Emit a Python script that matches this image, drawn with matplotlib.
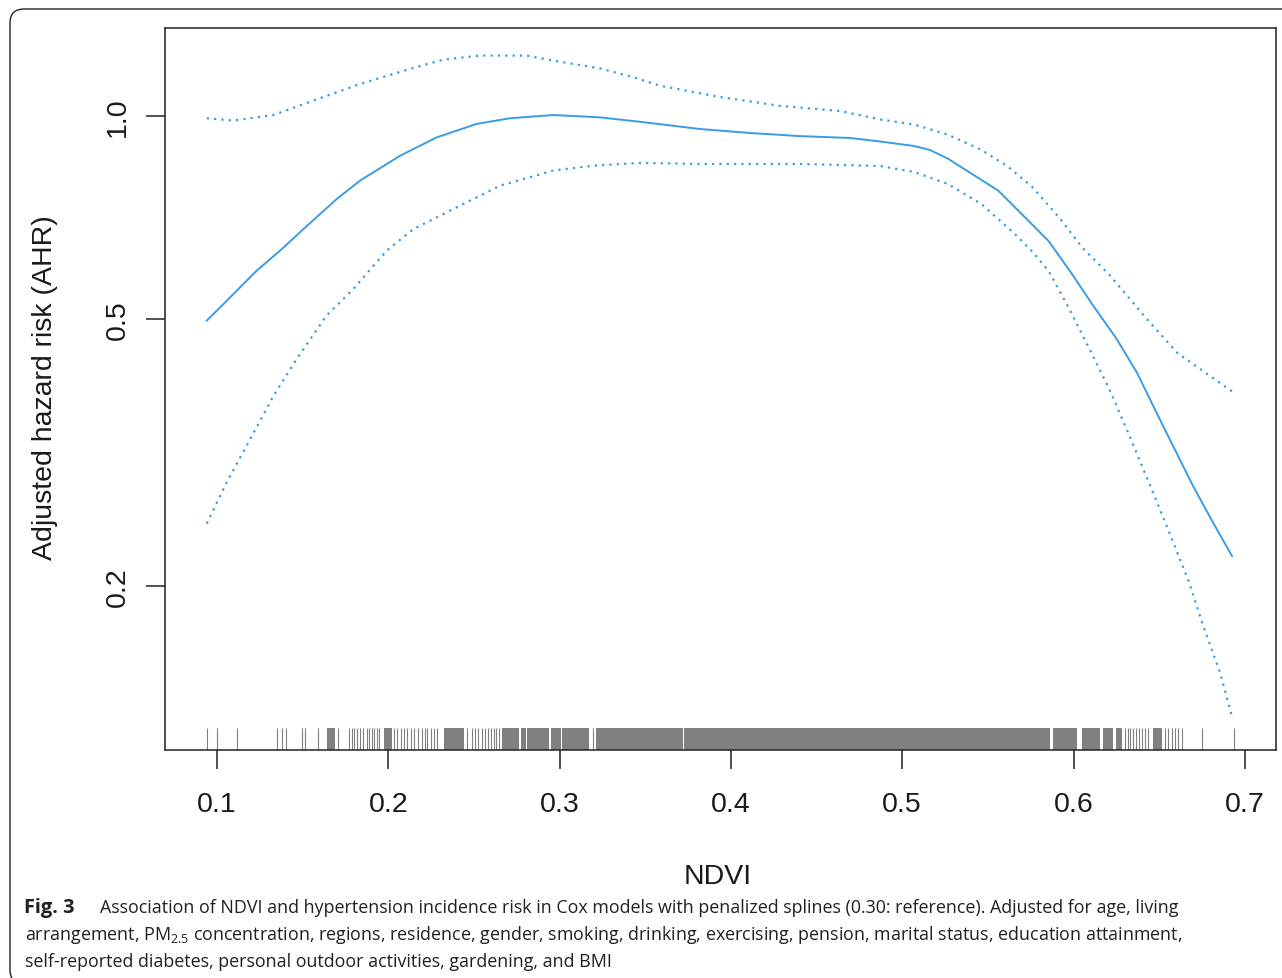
import matplotlib
matplotlib.use("Agg")
import matplotlib.pyplot as plt
from matplotlib.patches import FancyBboxPatch
from matplotlib.ticker import NullLocator
from matplotlib.transforms import IdentityTransform, blended_transform_factory

# values (NDVI vs adjusted hazard ratio, log scale)
fit_x = [0.0940, 0.1047, 0.1232, 0.1378, 0.1504, 0.1699, 0.1835, 0.2068, 0.2283,
         0.2516, 0.2710, 0.2963, 0.3236, 0.3469, 0.3820, 0.4112, 0.4404, 0.4695,
         0.4870, 0.5068, 0.5160, 0.5265, 0.5560, 0.5758, 0.5856, 0.5995, 0.6113,
         0.6251, 0.6370, 0.6507, 0.6698, 0.6814, 0.6925]
fit_y = [0.497, 0.529, 0.590, 0.635, 0.680, 0.754, 0.803, 0.874, 0.931,
         0.975, 0.994, 1.005, 0.997, 0.982, 0.958, 0.945, 0.935, 0.929,
         0.918, 0.904, 0.892, 0.866, 0.776, 0.691, 0.652, 0.581, 0.524,
         0.467, 0.416, 0.353, 0.282, 0.249, 0.222]

upper_x = [0.0940, 0.1095, 0.1329, 0.1562, 0.1835, 0.2127, 0.2321, 0.2535, 0.2808,
           0.3002, 0.3236, 0.3430, 0.3586, 0.3936, 0.4287, 0.4637, 0.4870, 0.5068,
           0.5265, 0.5462, 0.5618, 0.5758, 0.5915, 0.6054, 0.6211, 0.6409, 0.6606,
           0.6925]
upper_y = [0.994, 0.986, 1.005, 1.056, 1.118, 1.177, 1.215, 1.232, 1.232,
           1.206, 1.179, 1.144, 1.111, 1.069, 1.037, 1.019, 0.990, 0.973,
           0.940, 0.892, 0.842, 0.786, 0.708, 0.637, 0.581, 0.506, 0.445,
           0.390]

lower_x = [0.0940, 0.1057, 0.1193, 0.1329, 0.1465, 0.1640, 0.1796, 0.1991, 0.2146,
           0.2419, 0.2652, 0.2963, 0.3197, 0.3469, 0.3820, 0.4404, 0.4870, 0.5068,
           0.5265, 0.5462, 0.5659, 0.5758, 0.5857, 0.5974, 0.6093, 0.6211, 0.6318,
           0.6400, 0.6479, 0.6558, 0.6674, 0.6756, 0.6855, 0.6925]
lower_y = [0.248, 0.286, 0.331, 0.384, 0.436, 0.506, 0.554, 0.632, 0.680,
           0.737, 0.789, 0.831, 0.845, 0.853, 0.850, 0.850, 0.844, 0.827,
           0.794, 0.741, 0.668, 0.630, 0.588, 0.518, 0.451, 0.392, 0.339,
           0.302, 0.270, 0.241, 0.203, 0.175, 0.149, 0.128]

# rug: single observations and stretches where the ticks merge into a band
rug_ticks = [0.094, 0.100, 0.1115, 0.1348, 0.1377, 0.1404, 0.1494, 0.1516, 0.1588,
             0.1708, 0.1772, 0.1786, 0.1802, 0.1819, 0.1835, 0.1854, 0.1874, 0.1889,
             0.1903, 0.1918, 0.1932, 0.1947, 0.2033, 0.2053, 0.2072, 0.2092, 0.2111,
             0.2131, 0.2150, 0.2175, 0.2195, 0.2214, 0.2228, 0.2248, 0.2267, 0.2286,
             0.2458, 0.2487, 0.2506, 0.2526, 0.2546, 0.2565, 0.2584, 0.2598, 0.2614,
             0.2629, 0.2643, 0.3192, 0.6298, 0.6316, 0.6331, 0.6350, 0.6367, 0.6382,
             0.6401, 0.6418, 0.6436, 0.6534, 0.6552, 0.6573, 0.6591, 0.6612, 0.6633,
             0.6750, 0.6938]
rug_blocks = [(0.1640, 0.1688), (0.1975, 0.2020), (0.2325, 0.2440), (0.2662, 0.2765),
              (0.2773, 0.2804), (0.2812, 0.2940), (0.2948, 0.3008), (0.3016, 0.3172),
              (0.3212, 0.3720), (0.3727, 0.5862), (0.5878, 0.6018), (0.6050, 0.6155),
              (0.6173, 0.6228), (0.6250, 0.6284), (0.6465, 0.6515)]

x_ticks = [0.1, 0.2, 0.3, 0.4, 0.5, 0.6, 0.7]
x_tick_labels = ["0.1", "0.2", "0.3", "0.4", "0.5", "0.6", "0.7"]
y_ticks = [0.2, 0.5, 1.0]
y_tick_labels = ["0.2", "0.5", "1.0"]

caption_lines = [
    "Association of NDVI and hypertension incidence risk in Cox models with penalized "
    "splines (0.30: reference). Adjusted for age, living",
    r"arrangement, PM$\mathregular{_{2.5}}$ concentration, regions, residence, gender, smoking, "
    "drinking, exercising, pension, marital status, education attainment,",
    "self-reported diabetes, personal outdoor activities, gardening, and BMI",
]

LINE_COLOR = "#3a9de4"
RUG_COLOR = "#808080"
TEXT_COLOR = "#231f20"
CAPTION_FONT = ["Liberation Sans Narrow", "Open Sans", "DejaVu Sans"]

plt.rcParams["font.family"] = ["Liberation Sans", "DejaVu Sans"]
plt.rcParams["mathtext.fontset"] = "custom"

W, H = 1282, 979
fig = plt.figure(figsize=(W / 100, H / 100), dpi=100)
fig.patch.set_facecolor("white")


def fx(px):
    return px / W


def fy(py):
    return 1 - py / H


ax = fig.add_axes([fx(165), fy(751), (1276 - 165) / W, (751 - 29) / H])

ax.plot(fit_x, fit_y, color=LINE_COLOR, lw=1.4)
ax.plot(upper_x, upper_y, color=LINE_COLOR, lw=1.6, linestyle=(0, (1, 2.3)))
ax.plot(lower_x, lower_y, color=LINE_COLOR, lw=1.6, linestyle=(0, (1, 2.3)))

# rug along the bottom, 3% of the plot height
trans = blended_transform_factory(ax.transData, ax.transAxes)
ax.vlines(rug_ticks, 0, 0.03, transform=trans, color=RUG_COLOR, lw=0.8)
for a, b in rug_blocks:
    ax.axvspan(a, b, ymin=0, ymax=0.03, color=RUG_COLOR, lw=0)

ax.set_yscale("log")
ax.set_xlim(0.0696, 0.7182)
ax.set_ylim(0.1142, 1.354)
ax.set_xticks(x_ticks)
ax.set_xticklabels(x_tick_labels)
ax.set_yticks(y_ticks)
ax.set_yticklabels(y_tick_labels)
ax.yaxis.set_minor_locator(NullLocator())
ax.xaxis.set_minor_locator(NullLocator())

ax.tick_params(axis="both", length=13.5, width=1.1, color="#222222",
               labelsize=20.5, labelcolor="#1a1a1a")
ax.tick_params(axis="x", pad=16)
ax.tick_params(axis="y", pad=11, labelrotation=90)
for lbl in ax.get_yticklabels():
    lbl.set_va("center")
for sp in ax.spines.values():
    sp.set_linewidth(1.1)
    sp.set_color("#222222")

fig.text(fx(45), fy(388), "Adjusted hazard risk (AHR)", rotation=90,
         ha="center", va="center", fontsize=20.5, color="#1a1a1a")
fig.text(fx(718), fy(877), "NDVI", ha="center", va="center",
         fontsize=20.5, color="#1a1a1a")

# rounded frame around the whole figure panel
frame = FancyBboxPatch((10, -6), 1290, 975, boxstyle="round,pad=0,rounding_size=14",
                       transform=IdentityTransform(), fill=False,
                       edgecolor="#222222", lw=1.0)
fig.add_artist(frame)

# caption: size the font so the last line spans about the same width as the original
fig.canvas.draw()
renderer = fig.canvas.get_renderer()
probe = fig.text(0, 0, caption_lines[2], fontsize=14, family=CAPTION_FONT)
w = probe.get_window_extent(renderer).width
probe.remove()
cap_size = 14 * (617 - 25) / w

fig.text(fx(24), fy(913), "Fig. 3", fontsize=cap_size * 1.12, family=CAPTION_FONT,
         weight="bold", color=TEXT_COLOR, va="baseline")
fig.text(fx(100), fy(913), caption_lines[0], fontsize=cap_size, family=CAPTION_FONT,
         color=TEXT_COLOR, va="baseline")
fig.text(fx(25), fy(940), caption_lines[1], fontsize=cap_size, family=CAPTION_FONT,
         color=TEXT_COLOR, va="baseline")
fig.text(fx(25), fy(967), caption_lines[2], fontsize=cap_size, family=CAPTION_FONT,
         color=TEXT_COLOR, va="baseline")

fig.savefig("out.png", dpi=100)
